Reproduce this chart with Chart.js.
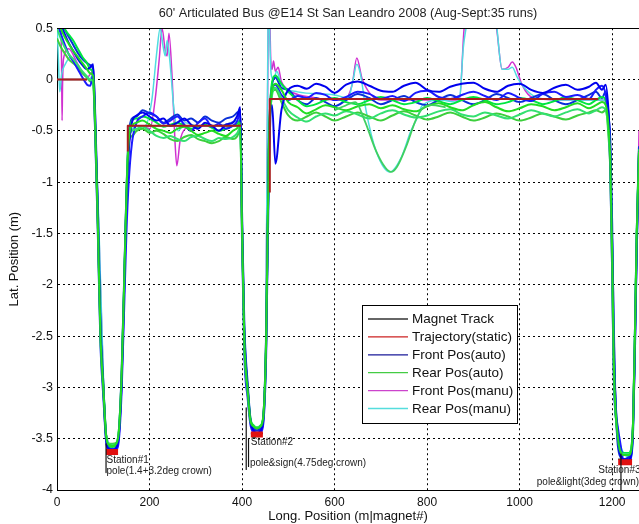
<!DOCTYPE html>
<html><head><meta charset="utf-8">
<script src="https://cdn.jsdelivr.net/npm/chart.js@4.4.1/dist/chart.umd.min.js"></script>
<style>html,body{margin:0;padding:0;background:#fff;}#wrap{width:639px;height:524px;}</style>
</head><body><div id="wrap"><canvas id="c" width="639" height="524"></canvas></div>
<script>
// ---------- DATA ----------
const TITLE = "60' Articulated Bus @E14 St San Leandro 2008 (Aug-Sept:35 runs)";
const X_TITLE = "Long. Position (m|magnet#)";
const Y_TITLE = "Lat. Position (m)";
const X_MIN = 0, X_MAX = 1258, X_STEP = 200;
const Y_MIN = -4, Y_MAX = 0.5, Y_STEP = 0.5;

const LEGEND_LABELS = ['Magnet Track','Trajectory(static)','Front Pos(auto)','Rear Pos(auto)','Front Pos(manu)','Rear Pos(manu)'];

// Magnet track (lies under the static trajectory)
const TRACK_X = [0,65,100,108,132,140,153,398,430,419,445,450,460,1170,1200,1213,1243];
const TRACK_Y = [0,0,null,-3.6,-3.6,null,-0.45,-0.45,null,-3.45,-3.45,null,-0.19,-0.19,null,-3.7,-3.7];

// Static trajectory (visible pieces) and station stops
const TRAJ_X = [0,65,100,153,153,398,430,460,460,1170];
const TRAJ_Y = [0,0,null,-0.7,-0.45,-0.45,null,-1.1,-0.19,-0.19];
const STOP_X = [106,132,200,419,445,800,1213,1243];
const STOP_Y = [-3.63,-3.63,null,-3.46,-3.46,null,-3.73,-3.73];

// Station pointer lines
const MARK_X = [106,106,200,409,409,411,414,414,800,1219,1219];
const MARK_Y = [-3.55,-3.83,null,-3.2,-3.8,null,-3.5,-3.77,null,-3.65,-4.0];

// Shared positions for the auto runs
const X_AUTO = [0,8,16,25,35,45,55,65,72,78,
  82,88,94,100,106, 112,120,128, 134,140,146,150,155,
  162,172,185,200,215,230,245,260,275,290,305,320,335,350,365,380,390,396,
  400,405,412,418,425,432,440,446,452,458,465,472,485,
  500,520,540,560,580,600,625,650,675,700,725,750,775,800,825,850,875,900,925,950,975,1000,1025,1050,1075,1100,1125,1150,1165,1178,1186,
  1192,1196,1200,1203,1206,1211,1216,1226,1236,1241,1245,1249,1253,1258];

const FRONT_AUTO_1 = [0.62,0.55,0.45,0.36,0.28,0.2,0.14,0.1,0.12,0.15,
  -0.3,-1.3,-2.45,-3.0,-3.5, -3.6,-3.61,-3.59, -3.45,-2.9,-1.9,-1.2,-0.7,
  -0.42,-0.35,-0.32,-0.36,-0.4,-0.38,-0.45,-0.42,-0.38,-0.44,-0.48,-0.42,-0.45,-0.5,-0.44,-0.42,-0.35,-0.27,
  -1.4,-2.5,-3.0,-3.32,-3.42,-3.44,-3.42,-3.3,-2.6,-0.7,-0.25,-0.82,-0.3,
  -0.1,-0.06,-0.09,-0.04,-0.07,-0.13,-0.05,-0.02,-0.06,-0.11,-0.12,-0.06,-0.03,-0.1,-0.12,-0.07,-0.04,-0.03,-0.09,-0.12,-0.06,-0.04,-0.1,-0.13,-0.08,-0.05,-0.1,-0.07,-0.03,-0.1,-0.05,
  -0.3,-0.7,-1.6,-2.5,-3.0,-3.4,-3.62,-3.7,-3.7,-3.66,-3.4,-2.6,-1.6,-0.7];
const FRONT_AUTO_2 = [0.55,0.45,0.35,0.25,0.18,0.1,0.02,-0.05,-0.06,0.05,
  -0.45,-1.45,-2.6,-3.08,-3.52, -3.62,-3.6,-3.6, -3.5,-3.0,-2.1,-1.5,-1.0,
  -0.62,-0.42,-0.36,-0.32,-0.36,-0.43,-0.4,-0.36,-0.44,-0.5,-0.42,-0.38,-0.46,-0.43,-0.48,-0.45,-0.4,-0.3,
  -1.6,-2.7,-3.1,-3.36,-3.44,-3.45,-3.44,-3.35,-2.7,-0.9,-0.1,-0.05,-0.15,
  -0.2,-0.16,-0.18,-0.13,-0.15,-0.2,-0.17,-0.12,-0.14,-0.19,-0.16,-0.21,-0.13,-0.11,-0.17,-0.19,-0.15,-0.12,-0.16,-0.2,-0.13,-0.18,-0.21,-0.14,-0.12,-0.17,-0.15,-0.19,-0.1,-0.06,-0.15,
  -0.4,-0.9,-1.9,-2.8,-3.2,-3.35,-3.5,-3.72,-3.72,-3.68,-3.45,-2.7,-1.7,-0.8];
const FRONT_AUTO_3 = [0.75,0.62,0.5,0.42,0.34,0.26,0.2,0.16,0.14,0.1,
  -0.25,-1.2,-2.35,-2.95,-3.46, -3.58,-3.6,-3.58, -3.42,-2.8,-1.8,-1.1,-0.55,
  -0.38,-0.36,-0.3,-0.33,-0.36,-0.42,-0.38,-0.34,-0.4,-0.38,-0.42,-0.36,-0.4,-0.42,-0.38,-0.36,-0.32,-0.3,
  -1.3,-2.4,-2.95,-3.3,-3.4,-3.42,-3.4,-3.28,-2.5,-0.6,-0.05,0.02,-0.08,
  -0.1,-0.2,-0.24,-0.18,-0.22,-0.26,-0.2,-0.14,-0.18,-0.24,-0.2,-0.16,-0.22,-0.25,-0.2,-0.15,-0.2,-0.24,-0.2,-0.14,-0.18,-0.22,-0.18,-0.14,-0.2,-0.24,-0.2,-0.15,-0.12,-0.18,-0.12,
  -0.35,-0.6,-1.4,-2.4,-3.0,-3.5,-3.66,-3.7,-3.68,-3.65,-3.35,-2.5,-1.5,-0.65];

const REAR_AUTO_1 = [0.6,0.5,0.42,0.35,0.28,0.22,0.16,0.1,0.06,0.04,
  -0.35,-1.35,-2.5,-3.0,-3.47, -3.56,-3.57,-3.55, -3.42,-2.85,-1.85,-1.15,-0.6,
  -0.45,-0.42,-0.4,-0.44,-0.48,-0.5,-0.52,-0.48,-0.46,-0.5,-0.54,-0.52,-0.5,-0.53,-0.55,-0.5,-0.47,-0.42,
  -1.45,-2.55,-3.02,-3.32,-3.38,-3.4,-3.38,-3.28,-2.55,-0.65,-0.1,-0.04,-0.1,
  -0.22,-0.27,-0.33,-0.29,-0.25,-0.27,-0.3,-0.26,-0.24,-0.28,-0.25,-0.29,-0.31,-0.26,-0.23,-0.27,-0.3,-0.25,-0.22,-0.27,-0.31,-0.28,-0.24,-0.26,-0.3,-0.27,-0.23,-0.28,-0.25,-0.22,-0.25,
  -0.45,-0.8,-1.7,-2.6,-3.1,-3.42,-3.6,-3.66,-3.66,-3.62,-3.38,-2.55,-1.55,-0.7];
const REAR_AUTO_2 = [0.5,0.4,0.32,0.25,0.2,0.14,0.08,0.03,0.0,-0.02,
  -0.42,-1.4,-2.55,-3.02,-3.48, -3.55,-3.56,-3.55, -3.4,-2.82,-1.82,-1.12,-0.58,
  -0.5,-0.48,-0.46,-0.5,-0.55,-0.57,-0.55,-0.58,-0.6,-0.56,-0.55,-0.58,-0.6,-0.57,-0.58,-0.56,-0.52,-0.46,
  -1.5,-2.6,-3.05,-3.33,-3.38,-3.39,-3.38,-3.3,-2.6,-0.7,-0.15,-0.08,-0.18,
  -0.3,-0.37,-0.41,-0.36,-0.33,-0.35,-0.31,-0.34,-0.38,-0.33,-0.3,-0.34,-0.37,-0.35,-0.31,-0.29,-0.34,-0.36,-0.32,-0.35,-0.38,-0.34,-0.3,-0.33,-0.36,-0.32,-0.29,-0.33,-0.3,-0.27,-0.3,
  -0.5,-0.85,-1.8,-2.7,-3.15,-3.44,-3.6,-3.65,-3.65,-3.6,-3.35,-2.5,-1.5,-0.7];
const REAR_AUTO_3 = [0.72,0.6,0.5,0.44,0.38,0.3,0.22,0.16,0.1,0.06,
  -0.38,-1.3,-2.45,-2.97,-3.45, -3.57,-3.58,-3.56, -3.43,-2.88,-1.88,-1.18,-0.62,
  -0.4,-0.38,-0.36,-0.38,-0.42,-0.46,-0.44,-0.42,-0.45,-0.48,-0.46,-0.44,-0.47,-0.5,-0.48,-0.45,-0.43,-0.4,
  -1.42,-2.52,-3.0,-3.3,-3.37,-3.39,-3.37,-3.27,-2.52,-0.62,-0.02,0.04,-0.04,
  -0.12,-0.2,-0.26,-0.24,-0.2,-0.18,-0.22,-0.24,-0.2,-0.17,-0.2,-0.24,-0.22,-0.18,-0.21,-0.24,-0.2,-0.17,-0.2,-0.24,-0.22,-0.18,-0.2,-0.24,-0.21,-0.17,-0.2,-0.24,-0.2,-0.17,-0.2,
  -0.4,-0.75,-1.65,-2.55,-3.05,-3.4,-3.58,-3.64,-3.64,-3.6,-3.36,-2.52,-1.52,-0.68];
const REAR_AUTO_4 = [0.4,0.32,0.26,0.2,0.16,0.12,0.06,0.02,-0.02,-0.04,
  -0.4,-1.38,-2.52,-3.0,-3.46, -3.55,-3.55,-3.54, -3.4,-2.84,-1.84,-1.14,-0.6,
  -0.55,-0.5,-0.48,-0.52,-0.5,-0.53,-0.58,-0.6,-0.56,-0.54,-0.58,-0.6,-0.62,-0.6,-0.56,-0.58,-0.55,-0.48,
  -1.48,-2.58,-3.04,-3.32,-3.38,-3.4,-3.38,-3.29,-2.58,-0.68,-0.12,-0.1,-0.22,
  -0.35,-0.4,-0.36,-0.32,-0.36,-0.4,-0.36,-0.32,-0.36,-0.4,-0.35,-0.31,-0.35,-0.39,-0.36,-0.32,-0.36,-0.4,-0.37,-0.33,-0.36,-0.4,-0.37,-0.33,-0.36,-0.39,-0.35,-0.32,-0.3,-0.32,-0.3,
  -0.55,-0.9,-1.85,-2.75,-3.15,-3.45,-3.6,-3.66,-3.66,-3.62,-3.38,-2.55,-1.55,-0.72];
// one rear (auto) run that swung out near 720 m
const REAR_AUTO_V_X = [600,620,645,665,690,710,722,735,755,775,790,810,840];
const REAR_AUTO_V_Y = [-0.3,-0.26,-0.22,-0.4,-0.7,-0.86,-0.9,-0.85,-0.65,-0.4,-0.28,-0.25,-0.27];

// Manual runs
const FRONT_MANU_X = [0,8,10,11,12,14,25,45,65,78,
  82,90,100,106,120,132,140,150,160,180,
  201,212,221,227,234,238,242,249,255,259,
  266,277,300,350,396,402,412,420,440,447,
  451,454,456,458,460,462,465,468,472,478,
  485,500,560,620,638,648,660,700,800,870,
  880,910,950,962,975,984,992,1005,1030,1100,
  1180,1192,1200,1210,1225,1242,1248,1253,1258];
const FRONT_MANU_Y = [0.7,0.55,0.1,-0.4,-0.05,0.2,0.3,0.15,0.02,0.08,
  -0.4,-1.4,-2.9,-3.45,-3.58,-3.55,-2.9,-1.2,-0.5,-0.45,
  -0.48,-0.2,0.2,0.5,0.28,0.23,0.45,0.0,-0.6,-0.84,
  -0.6,-0.48,-0.45,-0.45,-0.4,-2.0,-3.0,-3.35,-3.42,-3.3,
  -2.6,-1.0,0.3,0.9,0.6,0.2,0.1,0.18,0.08,0.12,
  -0.02,-0.1,-0.18,-0.2,-0.05,0.21,0.0,-0.2,-0.2,-0.2,
  0.5,1.2,0.5,0.1,0.12,0.17,0.12,-0.05,-0.18,-0.2,
  -0.2,-0.35,-1.5,-3.4,-3.65,-3.65,-3.0,-1.8,-0.5];
const REAR_MANU_X = [0,3,6,10,18,30,50,70,78,82,
  90,100,106,120,132,140,150,160,180,190,
  205,216,223,229,234,238,244,253,262,277,
  300,350,396,402,412,420,440,447,451,454,
  456,458,460,463,468,475,485,520,600,630,
  640,648,656,668,690,720,745,765,778,790,
  830,860,871,878,886,910,945,951,962,975,
  984,995,1010,1040,1100,1180,1192,1200,1210,1240,
  1246,1252,1258];
const REAR_MANU_Y = [0.55,0.2,-0.12,0.05,0.15,0.22,0.1,0.0,0.05,-0.4,
  -1.35,-2.85,-3.45,-3.56,-3.54,-2.85,-1.1,-0.5,-0.45,-0.45,
  -0.2,0.28,0.5,0.33,0.23,0.38,0.18,-0.3,-0.5,-0.42,
  -0.45,-0.45,-0.4,-2.0,-3.0,-3.35,-3.4,-3.3,-2.6,-0.8,
  0.5,0.9,0.4,0.05,0.0,0.08,-0.05,-0.12,-0.15,-0.18,
  0.0,0.15,0.05,-0.3,-0.7,-0.9,-0.75,-0.5,-0.38,-0.25,
  -0.2,-0.22,-0.15,0.3,0.55,1.2,0.8,0.5,0.1,0.1,
  0.12,0.02,-0.08,-0.18,-0.2,-0.2,-0.3,-1.5,-3.4,-3.68,
  -3.4,-2.0,-0.7];

// Station notes (anchor in data units)
const NOTE_TEXT = ['Station#1','pole(1.4+3.2deg crown)','Station#2','pole&sign(4.75deg crown)','Station#3','pole&light(3deg crown)'];
const NOTE_X = [107,107,419,417,1170,1037];
const NOTE_Y = [-3.71,-3.82,-3.53,-3.74,-3.81,-3.92];

// ---------- STYLES ----------
const FONT = "'Liberation Sans', Arial, Helvetica, sans-serif";
Chart.defaults.font.family = FONT;
Chart.defaults.color = '#111';
const LEGEND_COLORS = ['#333333','#cc2222','#1a1a99','#44cc44','#cc44cc','#55dddd'];

const pts = (xs, ys) => xs.map((x, i) => ({x: x, y: ys[i]}));
function ds(label, xs, ys, color, width, order, smooth) {
  return {
    label: label, data: pts(xs, ys), borderColor: color, backgroundColor: color,
    borderWidth: width, pointRadius: 0, fill: false, order: order,
    tension: 0, cubicInterpolationMode: smooth ? 'monotone' : 'default',
    borderCapStyle: 'butt', borderJoinStyle: 'round', spanGaps: false
  };
}

const datasets = [
  ds('marks', MARK_X, MARK_Y, '#111', 1.2, 0, false),
  ds('Trajectory(static)', TRAJ_X, TRAJ_Y, '#a81e1e', 2, 1, false),
  ds('stops', STOP_X, STOP_Y, '#e01010', 6, 1, false),
  ds('Rear Pos(auto)', REAR_AUTO_V_X, REAR_AUTO_V_Y, '#3fd060', 1.8, 3, true),
  ds('Rear Pos(auto)', X_AUTO, REAR_AUTO_1, '#22dd22', 2, 4, true),
  ds('Front Pos(auto)', X_AUTO, FRONT_AUTO_1, '#0000ee', 2, 5, true),
  ds('Rear Pos(auto)', X_AUTO, REAR_AUTO_2, '#33e070', 2, 6, true),
  ds('Front Pos(auto)', X_AUTO, FRONT_AUTO_2, '#1a1aff', 2, 7, true),
  ds('Rear Pos(auto)', X_AUTO, REAR_AUTO_3, '#00e640', 2, 8, true),
  ds('Front Pos(auto)', X_AUTO, FRONT_AUTO_3, '#0a30d8', 2, 9, true),
  ds('Rear Pos(auto)', X_AUTO, REAR_AUTO_4, '#3ccf3c', 2, 10, true),
  ds('Rear Pos(manu)', REAR_MANU_X, REAR_MANU_Y, '#50dde0', 1.5, 20, true),
  ds('Front Pos(manu)', FRONT_MANU_X, FRONT_MANU_Y, '#d030d0', 1.5, 21, true),
  ds('Magnet Track', TRACK_X, TRACK_Y, '#222', 1.5, 30, false)
];

const overlay = {
  id: 'overlay',
  afterDatasetsDraw(chart) {
    const ctx = chart.ctx, ca = chart.chartArea, sx = chart.scales.x, sy = chart.scales.y;
    ctx.save();
    ctx.strokeStyle = '#000'; ctx.lineWidth = 1;
    ctx.beginPath();
    ctx.moveTo(ca.left, Math.round(ca.top) + 0.5);
    ctx.lineTo(ca.right, Math.round(ca.top) + 0.5);
    ctx.stroke();
    ctx.font = '10px ' + FONT;
    ctx.fillStyle = '#222'; ctx.textAlign = 'left'; ctx.textBaseline = 'middle';
    NOTE_TEXT.forEach((t, i) => ctx.fillText(t, sx.getPixelForValue(NOTE_X[i]), sy.getPixelForValue(NOTE_Y[i])));
    const bx = Math.round(ca.left) + 305, by = Math.round(ca.top) + 277, bw = 155, bh = 118;
    ctx.fillStyle = '#fff'; ctx.fillRect(bx, by, bw, bh);
    ctx.strokeStyle = '#000'; ctx.lineWidth = 1;
    ctx.strokeRect(bx + 0.5, by + 0.5, bw, bh);
    ctx.font = '13.5px ' + FONT;
    LEGEND_LABELS.forEach((lab, i) => {
      const yy = by + 14 + i * 17.9;
      ctx.strokeStyle = LEGEND_COLORS[i]; ctx.lineWidth = 1.3;
      ctx.beginPath(); ctx.moveTo(bx + 6, yy); ctx.lineTo(bx + 46, yy); ctx.stroke();
      ctx.fillStyle = '#111';
      ctx.fillText(lab, bx + 50, yy + 0.5);
    });
    ctx.restore();
  }
};

new Chart(document.getElementById('c'), {
  type: 'line',
  data: {datasets: datasets},
  options: {
    responsive: false, animation: false, events: [],
    layout: {padding: {left: 0, right: 0, top: 0, bottom: 0}},
    plugins: {
      legend: {display: false},
      tooltip: {enabled: false},
      title: {display: true, text: TITLE, fullSize: false, color: '#222',
        font: {size: 12.7, weight: 'normal', family: FONT}, padding: {top: 6, bottom: 7}}
    },
    scales: {
      x: {
        type: 'linear', min: X_MIN, max: X_MAX,
        ticks: {stepSize: X_STEP, includeBounds: false, padding: 5, maxRotation: 0, autoSkip: false,
          color: '#111', font: {size: 12}, callback: v => String(v)},
        grid: {color: '#000', lineWidth: 1, drawTicks: false},
        border: {display: true, color: '#000', width: 1, dash: [2, 3]},
        title: {display: true, text: X_TITLE, color: '#111', font: {size: 13}, padding: {top: 0, bottom: 0}},
        afterFit: s => { s.height = 34; }
      },
      y: {
        type: 'linear', min: Y_MIN, max: Y_MAX,
        ticks: {stepSize: Y_STEP, padding: 4, color: '#111', font: {size: 12.5}, callback: v => String(v)},
        grid: {color: '#000', lineWidth: 1, drawTicks: false},
        border: {display: true, color: '#000', width: 1, dash: [2, 3]},
        title: {display: true, text: Y_TITLE, color: '#111', font: {size: 13}, padding: {top: 7, bottom: 0}},
        afterFit: s => { s.width = 57; }
      }
    }
  },
  plugins: [overlay]
});
</script></body></html>
